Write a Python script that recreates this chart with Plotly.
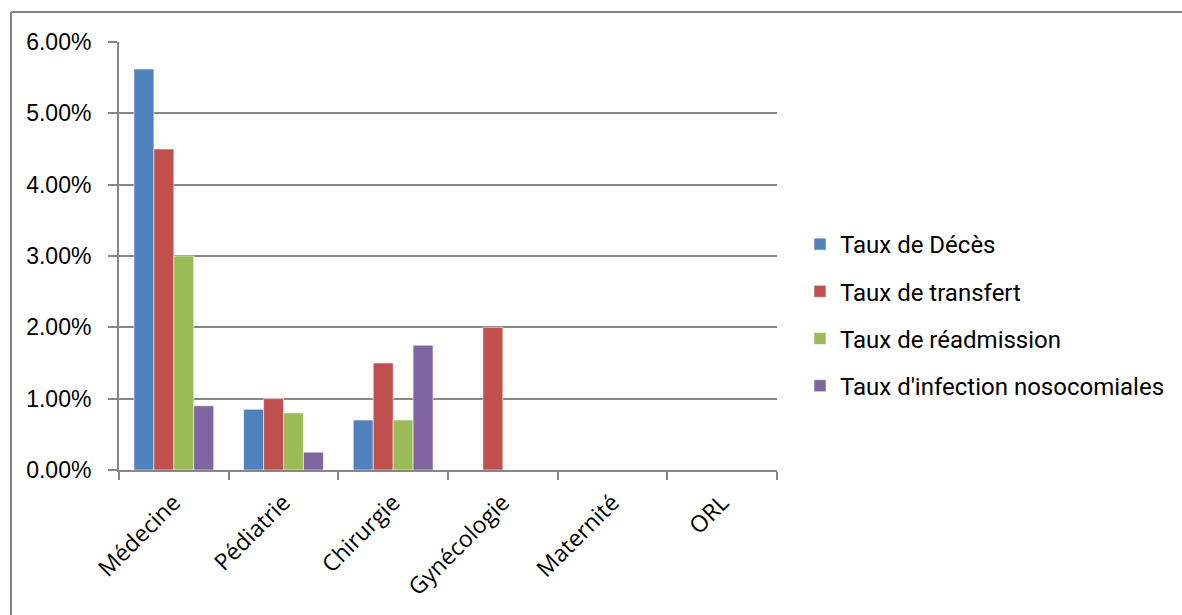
import plotly.graph_objects as go

# Services and indicator rates (fractions, shown as percentages)
services = ["Médecine", "Pédiatrie", "Chirurgie", "Gynécologie", "Maternité", "ORL"]
taux_deces = [0.0562, 0.0085, 0.0070, 0.0, 0.0, 0.0]
taux_transfert = [0.0450, 0.0100, 0.0150, 0.0200, 0.0, 0.0]
taux_readmission = [0.0300, 0.0080, 0.0070, 0.0, 0.0, 0.0]
taux_infection = [0.0090, 0.0025, 0.0175, 0.0, 0.0, 0.0]

series_names = [
    "Taux de Décès",
    "Taux de transfert",
    "Taux de réadmission",
    "Taux d'infection nosocomiales",
]
series_values = [taux_deces, taux_transfert, taux_readmission, taux_infection]
series_colors = ["#4F81BD", "#C0504D", "#9BBB59", "#8064A2"]

y_ticks = [0.0, 0.01, 0.02, 0.03, 0.04, 0.05, 0.06]
y_tick_labels = ["0.00%", "1.00%", "2.00%", "3.00%", "4.00%", "5.00%", "6.00%"]

GRID = "#878787"

fig = go.Figure()
for i, (name, vals, col) in enumerate(zip(series_names, series_values, series_colors)):
    fig.add_trace(go.Bar(
        x=services, y=vals, name=name,
        marker=dict(color=col, line=dict(color="rgba(255,255,255,0.55)", width=1)),
        legendgroup=f"g{i}",
    ))

# Plot-area margins in pixels, also used to place the outer chart frame
L, R, T, B = 119, 405, 42, 145
W, H = 1182, 615
pw, ph = W - L - R, H - T - B

def px_x(x):
    return (x - L) / pw

def px_y(y):
    return (H - B - y) / ph

frame = dict(color=GRID, width=2)
shapes = [
    dict(type="line", xref="paper", yref="paper", x0=px_x(11), x1=px_x(W + 5),
         y0=px_y(12), y1=px_y(12), line=frame),
    dict(type="line", xref="paper", yref="paper", x0=px_x(11), x1=px_x(11),
         y0=px_y(12), y1=px_y(W), line=frame),
]

fig.update_layout(
    width=W, height=H,
    margin=dict(l=L, r=R, t=T, b=B, autoexpand=False),
    paper_bgcolor="white", plot_bgcolor="white",
    barmode="group", bargap=0.273, bargroupgap=0,
    showlegend=True,
    legend=dict(
        x=px_x(800), y=px_y(315), xanchor="left", yanchor="middle",
        font=dict(family="Roboto", size=24, color="#000000"),
        tracegroupgap=13, traceorder="grouped",
        itemwidth=30,
    ),
    shapes=shapes,
    font=dict(family="Liberation Sans", color="#000000"),
)

fig.update_xaxes(
    type="category",
    tickangle=-45,
    tickfont=dict(family="Open Sans", size=23, color="#000000"),
    showline=True, linecolor=GRID, linewidth=2,
    ticks="outside", tickson="boundaries", ticklen=8, tickcolor=GRID, tickwidth=2,
    showgrid=False,
    ticklabelstandoff=8,
)
fig.update_yaxes(
    range=[0, 0.06],
    tickvals=y_ticks, ticktext=y_tick_labels,
    tickfont=dict(family="Liberation Sans", size=23, color="#000000"),
    showline=True, linecolor=GRID, linewidth=2,
    ticks="outside", ticklen=9, tickcolor=GRID, tickwidth=2,
    showgrid=True, gridcolor=GRID, gridwidth=2,
    zeroline=False,
    ticklabelstandoff=12,
)

fig.write_html("out.html")
